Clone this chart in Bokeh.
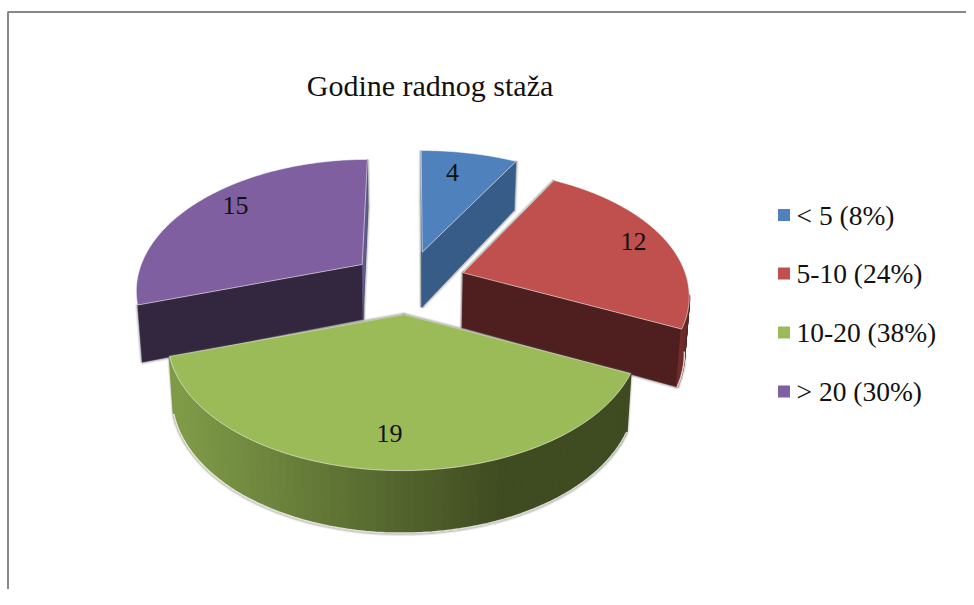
from math import sin, cos, radians
from bokeh.plotting import figure
from bokeh.models import Range1d
from bokeh.core.properties import value
from bokeh.embed import file_html
from bokeh.resources import INLINE

# ---- data
title_text = "Godine radnog staža"
categories = ["< 5", "5-10", "10-20", "> 20"]
values = [4, 12, 19, 15]
percents = [8, 24, 38, 30]

# ---- style
top_colors = ["#4f81bd", "#c0504d", "#9bbb59", "#7f5f9f"]
cut_colors = ["#375c87", "#4e1f1e", "#3f4b21", "#33273f"]
wall_left = [(79, 129, 189), (110, 45, 43), (127, 155, 72), (70, 55, 88)]
wall_right = [(55, 92, 135), (78, 31, 30), (63, 75, 33), (51, 39, 63)]
# per-slice projection: centre x, centre y, vanishing x, x radius, y radius
geom = [
    (421.7, 251.7, 415, 228, 120),
    (462.7, 272.3, 452, 222, 122),
    (403.3, 314.0, 411, 232, 128),
    (361.7, 264.0, 396, 221, 124),
]
label_pos = [(452, 172), (633, 241), (389, 433), (235, 205)]
legend_y = [214.5, 273, 332, 391]
K = 0.18
FONT = value("Liberation Serif")

p = figure(width=966, height=589, x_range=Range1d(0, 966), y_range=Range1d(589, 0),
           output_backend="svg", toolbar_location=None, min_border=0)
p.axis.visible = False
p.grid.visible = False
p.outline_line_color = None
p.background_fill_color = "white"
p.border_fill_color = "white"

# frame of the picture
p.line([7.5, 7.5, 966], [589, 11.5, 11.5], line_color="#888888", line_width=2)


def pt(g, deg, r=1.0, down=False):
    cx, cy, vx, R, Rp = g
    u, v = r * sin(radians(deg)), r * cos(radians(deg))
    s = 1 / (1 + K * v)
    x = vx + (cx - vx + R * u) * s
    y = cy - Rp * v * s
    if down:
        x += (405 - x) * 0.017
        y += 55 - 7 * v
    return x, y


def angles(a0, a1, n):
    return [a0 + (a1 - a0) * i / n for i in range(n + 1)]


def shade(x, c0, c1, x0, x1):
    t = max(0.0, min(1.0, (x - x0) / (x1 - x0)))
    return "#%02x%02x%02x" % tuple(round(a + (b - a) * t) for a, b in zip(c0, c1))


total = sum(values)
edges = [0]
for val in values:
    edges.append(edges[-1] + val / total * 360)
slices = [(i, edges[i], edges[i + 1]) for i in range(len(values))]
draw_order = [0, 3, 1, 2]

for i in draw_order:
    _, a0, a1 = slices[i]
    g = geom[i]

    def cut(a):
        pts = [pt(g, a, 0), pt(g, a), pt(g, a, 1, True), pt(g, a, 0, True)]
        return [q[0] for q in pts], [q[1] for q in pts]

    # visible part of the outer wall (the purple slice shows none of it)
    wa0 = max(a0, 100)
    wa1 = min(a1, 272)
    wall = wa1 > wa0 and i != 3
    if wall:
        arc = angles(wa0, wa1, 70 if i == 2 else 16)
        top = [pt(g, a) for a in arc]
        bot = [pt(g, a, 1, True) for a in arc]
    # soft shadow round the side faces
    for lw, al in ((5, 0.12), (3, 0.2)):
        for a in (a0, a1):
            xs, ys = cut(a)
            p.patch(xs, ys, fill_alpha=0, line_color="#555555", line_alpha=al, line_width=lw)
        if wall:
            p.line([q[0] for q in bot], [q[1] + 1 for q in bot], line_color="#555555",
                   line_alpha=al, line_width=lw)
    # radial cut faces
    for a in (a0, a1):
        xs, ys = cut(a)
        col = cut_colors[i]
        p.patch(xs, ys, fill_color=col, line_color=col, line_width=0.5)
    if i == 3:
        xs, ys = cut(a1)
        p.patch(xs, ys, fill_color="#5f5a8c", line_color="#5f5a8c", line_width=0.5)
    # outer wall, in narrow bands for the gradient
    if wall:
        xa, xb = (top[0][0], top[-1][0])
        lo, hi = min(xa, xb), max(xa, xb)
        for j in range(len(arc) - 1):
            qx = [top[j][0], top[j + 1][0], bot[j + 1][0], bot[j][0]]
            qy = [top[j][1], top[j + 1][1], bot[j + 1][1], bot[j][1]]
            if i == 2:
                c = shade(sum(qx) / 4, wall_left[i], wall_right[i], 180, 500)
            else:
                c = shade(sum(qx) / 4, wall_left[i], wall_right[i], lo, hi)
            p.patch(qx, qy, fill_color=c, line_color=c, line_width=2)
        p.line([q[0] for q in bot], [q[1] + 0.5 for q in bot], line_color="white", line_alpha=0.8, line_width=1.5)
    # top face
    rim = [pt(g, a) for a in angles(a0, a1, 120)]
    tx = [pt(g, a0, 0)[0]] + [q[0] for q in rim]
    ty = [pt(g, a0, 0)[1]] + [q[1] for q in rim]
    p.patch(tx, ty, fill_color=top_colors[i], line_color="white", line_alpha=0.55, line_width=1)

# slice value labels
p.text([q[0] for q in label_pos], [q[1] for q in label_pos], text=[str(v) for v in values],
       text_font=FONT, text_font_size="26px", text_color="#111111",
       text_align="center", text_baseline="middle")

# title
p.text([429.5], [85], text=[title_text], text_font=FONT, text_font_size="30px",
       text_color="#111111", text_align="center", text_baseline="middle")

# legend
p.scatter([783.5] * 4, legend_y, marker="square", size=12, fill_color=top_colors, line_color=None)
legend_labels = [f"{c} ({q}%)" for c, q in zip(categories, percents)]
p.text([796] * 4, legend_y, text=legend_labels, text_font=FONT,
       text_font_size="27.5px", text_color="#111111", text_align="left", text_baseline="middle")

open("out.html", "w").write(file_html(p, INLINE))
